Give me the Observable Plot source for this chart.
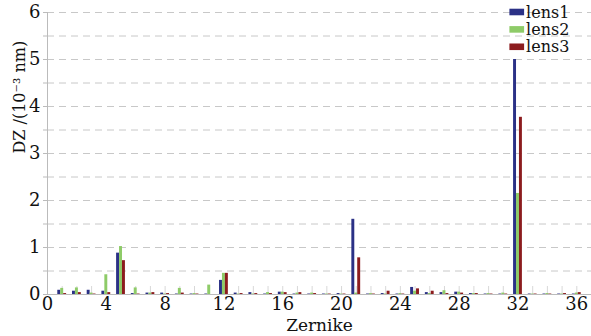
<!DOCTYPE html>
<html><head><meta charset="utf-8">
<script src="https://cdn.jsdelivr.net/npm/d3@7"></script>
<script src="https://cdn.jsdelivr.net/npm/@observablehq/plot@0.6"></script>
<style>
body{margin:0;background:#fff}
</style>
</head><body><div id="chart"></div>
<script>
const terms = d3.range(1, 37);
const lens1 = [0.09,0.07,0.09,0.07,0.88,0.02,0.03,0.03,0.01,0.01,0.01,0.30,0.03,0.04,0.01,0.05,0.01,0.01,0.01,0.02,1.60,0.01,0.02,0.01,0.15,0.04,0.04,0.05,0.02,0.01,0.01,5.00,0.01,0.01,0.01,0.01];
const lens2 = [0.13,0.14,0.03,0.42,1.02,0.14,0.03,0.01,0.13,0.02,0.20,0.45,0.01,0.01,0.04,0.05,0.03,0.03,0.01,0.01,0.03,0.02,0.01,0.02,0.07,0.02,0.08,0.05,0.02,0.02,0.03,2.15,0.01,0.02,0.01,0.03];
const lens3 = [0.02,0.04,0.01,0.04,0.72,0.01,0.04,0.02,0.03,0.01,0.00,0.45,0.02,0.02,0.02,0.04,0.04,0.02,0.01,0.01,0.78,0.01,0.07,0.01,0.12,0.07,0.02,0.03,0.02,0.01,0.01,3.77,0.01,0.01,0.02,0.04];
const seriesNames = ["lens1","lens2","lens3"];
const colors = ["#2b3186","#8ecb68","#8c1c1e"];
const xTicks = [0,4,8,12,16,20,24,28,32,36];
const yTicks = [0,1,2,3,4,5,6];

const values = [lens1, lens2, lens3];
const data = [];
terms.forEach((t, i) => values.forEach((arr, s) => data.push({term: t, s, name: seriesNames[s], v: arr[i]})));
const bw = 0.2;
const legendY = [6.0, 5.63, 5.26];
const ff = "'DejaVu Serif', serif";

const chart = Plot.plot({
  width: 591, height: 336,
  marginLeft: 47, marginRight: 0, marginTop: 12, marginBottom: 42,
  style: "font-family: " + ff + "; font-size: 18px; color: #111; background: #fff;",
  x: {domain: [0, 37]},
  y: {domain: [0, 6]},
  marks: [
    Plot.ruleY(d3.range(0.5, 6.01, 0.5), {stroke: "#c8c8c8", strokeDasharray: "7,5", strokeWidth: 1}),
    Plot.ruleX(terms, {x: d => d, y1: 0, y2: 0.17, stroke: "#d8d8d8", strokeWidth: 1}),
    Plot.rectY(data, {x1: d => d.term - 1.5*bw + d.s*bw, x2: d => d.term - 0.5*bw + d.s*bw, y: "v", fill: d => colors[d.s]}),
    Plot.ruleX([0], {stroke: "#bbb"}),
    Plot.ruleY([0], {stroke: "#bbb"}),
    Plot.axisY({ticks: d3.range(0, 6.01, 0.5), tickSize: 4, tickPadding: 3, stroke: "#bbb", tickFormat: d => Number.isInteger(d) ? d : "", label: null, fontSize: 18, fontFamily: ff}),
    Plot.axisX({ticks: xTicks, tickSize: 0, tickPadding: 3, label: null, fontSize: 18, fontFamily: ff}),
    Plot.text(["DZ /(10⁻³ nm)"], {frameAnchor: "left", dx: -28, rotate: -90, fontSize: 16, fontFamily: ff, text: d => d}),
    Plot.text(["Zernike"], {frameAnchor: "bottom", dy: 36, fontSize: 17, fontFamily: ff, text: d => d}),
    Plot.rect(seriesNames, {x1: 31.45, x2: 32.45, y1: (d, i) => legendY[i] + 0.07, y2: (d, i) => legendY[i] - 0.07, fill: (d, i) => colors[i]}),
    Plot.text(seriesNames, {x: 32.55, y: (d, i) => legendY[i], text: d => d, textAnchor: "start", fontSize: 16, fontFamily: ff})
  ]
});
document.getElementById("chart").appendChild(chart);
</script></body></html>
